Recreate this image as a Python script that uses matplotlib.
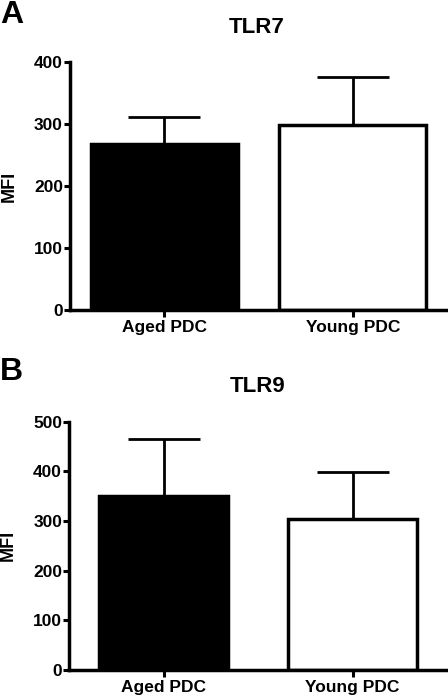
import matplotlib
matplotlib.use("Agg")
import matplotlib.pyplot as plt

plt.rcParams['font.family'] = ['Liberation Sans', 'DejaVu Sans']
plt.rcParams['font.weight'] = 'bold'

groups = ["Aged PDC", "Young PDC"]
colors = ["black", "white"]

tlr7_mean = [268, 299]
tlr7_err = [44, 77]

tlr9_mean = [351, 305]
tlr9_err = [114, 94]


def draw_panel(ax, means, errs, width, ymax, ystep):
    x = list(range(len(groups)))
    ax.bar(x, means, width=width, color=colors, edgecolor="black", linewidth=2.5, zorder=2)
    ax.errorbar(x, means, yerr=[[0] * len(errs), errs], fmt="none", ecolor="black",
                elinewidth=2, capsize=26, capthick=2, zorder=3)
    ax.set_xlim(-0.5, 1.5)
    ax.set_ylim(0, ymax)
    ax.set_yticks(range(0, ymax + 1, ystep))
    ax.set_xticks(x)
    ax.set_xticklabels(groups, fontsize=12.5, fontweight="bold")
    for lab in ax.get_yticklabels():
        lab.set_fontsize(12.5)
        lab.set_fontweight("bold")
    ax.spines["top"].set_visible(False)
    ax.spines["right"].set_visible(False)
    ax.spines["left"].set_linewidth(2.5)
    ax.spines["bottom"].set_linewidth(2.5)
    ax.tick_params(axis="y", width=2.2, length=4.5, pad=0.5)
    ax.tick_params(axis="x", width=2.2, length=5, pad=2)
    ax.set_ylabel("MFI", fontsize=13, fontweight="bold")
    ax.yaxis.set_label_coords(-0.138, 0.5)


fig = plt.figure(figsize=(4.48, 6.99), dpi=100)
ax1 = fig.add_axes([0.156, 0.5565, 0.842, 0.3548])
ax2 = fig.add_axes([0.154, 0.0415, 0.844, 0.3552])

draw_panel(ax1, tlr7_mean, tlr7_err, 0.78, 400, 100)
draw_panel(ax2, tlr9_mean, tlr9_err, 0.68, 500, 100)

fig.text(0.574, 0.9528, "TLR7", fontsize=16, fontweight="bold", ha="center", va="baseline")
fig.text(0.575, 0.439, "TLR9", fontsize=16, fontweight="bold", ha="center", va="baseline")
fig.text(0.0, 0.967, "A", fontsize=23, fontweight="bold", ha="left", va="baseline")
fig.text(0.0, 0.4564, "B", fontsize=23, fontweight="bold", ha="left", va="baseline")

fig.savefig("out.png", dpi=100)
